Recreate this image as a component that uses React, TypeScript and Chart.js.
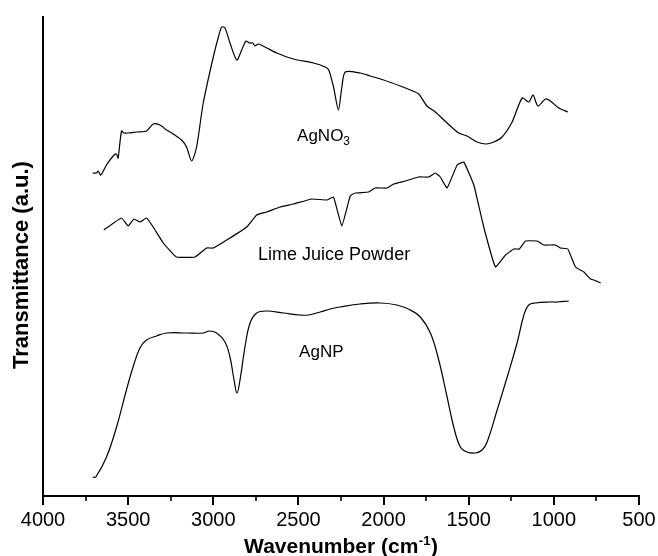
import React, { useEffect, useRef } from "react";
import { Chart, registerables } from "chart.js";

Chart.register(...registerables);

// Wavenumber (cm-1) and transmittance (arbitrary units) for each spectrum
const wnAgNO3 = [3709, 3686, 3676, 3661, 3627, 3588, 3568, 3559, 3539, 3525, 3500, 3450, 3392, 3353, 3314, 3274, 3235, 3186, 3157, 3127, 3098, 3059, 3000, 2970, 2951, 2931, 2902, 2862, 2833, 2808, 2788, 2768, 2755, 2735, 2686, 2627, 2529, 2412, 2343, 2322, 2294, 2265, 2245, 2225, 2137, 2078, 2000, 1902, 1843, 1794, 1745, 1696, 1627, 1559, 1510, 1451, 1398, 1353, 1304, 1245, 1186, 1147, 1122, 1094, 1049, 1020, 971, 918];
const tAgNO3 = [323, 323, 325, 321, 331, 340, 342, 338, 365, 363, 363, 364, 365, 372, 371, 366, 362, 356, 349, 335, 349, 393, 439, 459, 469, 468, 453, 436, 446, 455, 453, 453, 450, 452, 448, 443, 437, 433, 429, 426, 409, 386, 409, 424, 423, 420, 416, 410, 406, 402, 390, 384, 373, 363, 360, 354, 352, 354, 359, 374, 398, 394, 401, 390, 397, 395, 388, 384];

const wnLime = [3643, 3539, 3500, 3466, 3431, 3392, 3353, 3294, 3216, 3108, 3039, 3000, 2902, 2804, 2745, 2686, 2608, 2529, 2421, 2333, 2294, 2245, 2196, 2167, 2088, 2049, 1980, 1941, 1873, 1794, 1735, 1696, 1667, 1627, 1568, 1529, 1470, 1412, 1343, 1284, 1235, 1202, 1167, 1098, 1059, 990, 961, 918, 873, 824, 784, 765, 725];
const tLime = [266, 278, 270, 277, 274, 278, 269, 253, 239, 239, 248, 248, 258, 269, 281, 284, 289, 292, 297, 296, 299, 270, 300, 303, 304, 308, 308, 312, 315, 319, 319, 323, 319, 308, 331, 334, 311, 269, 229, 241, 247, 247, 255, 255, 251, 251, 248, 247, 229, 224, 217, 216, 213];

const wnAgNP = [3709, 3690, 3627, 3568, 3510, 3471, 3431, 3392, 3333, 3274, 3157, 3059, 3024, 2980, 2931, 2902, 2878, 2861, 2843, 2814, 2784, 2745, 2686, 2588, 2490, 2441, 2372, 2314, 2255, 2137, 2020, 1922, 1843, 1784, 1725, 1676, 1627, 1588, 1549, 1510, 1461, 1421, 1392, 1333, 1274, 1216, 1176, 1147, 1108, 1020, 980, 912];
const tAgNP = [19, 19, 39, 69, 106, 129, 148, 156, 160, 163, 163, 163, 165, 163, 154, 139, 116, 103, 116, 149, 173, 183, 185, 183, 181, 181, 184, 187, 189, 192, 193, 191, 186, 179, 163, 136, 99, 69, 49, 44, 43, 46, 54, 86, 119, 153, 181, 191, 193, 194, 194, 195];

const xMajorTicks = [4000, 3500, 3000, 2500, 2000, 1500, 1000, 500];
const xMinorTicks = [3750, 3250, 2750, 2250, 1750, 1250, 750];

const xTitle = "Wavenumber (cm";
const xTitleSup = "-1";
const xTitleEnd = ")";
const yTitle = "Transmittance (a.u.)";

const FONT = '"Liberation Sans", Arial, Helvetica, sans-serif';

const toPoints = (xs: number[], ys: number[]) => xs.map((x, i) => ({ x, y: ys[i] }));

const overlayPlugin = {
  id: "ftirOverlay",
  afterDraw(chart: any) {
    const { ctx, chartArea, scales } = chart;
    const xs = scales.x;
    const ys = scales.y;
    ctx.save();
    ctx.strokeStyle = "#000";
    ctx.fillStyle = "#000";
    // tick marks
    ctx.lineWidth = 2;
    xMajorTicks.forEach((v) => {
      const px = Math.round(xs.getPixelForValue(v));
      ctx.beginPath();
      ctx.moveTo(px, chartArea.bottom);
      ctx.lineTo(px, chartArea.bottom + 9);
      ctx.stroke();
    });
    ctx.lineWidth = 1.6;
    xMinorTicks.forEach((v) => {
      const px = Math.round(xs.getPixelForValue(v));
      ctx.beginPath();
      ctx.moveTo(px, chartArea.bottom);
      ctx.lineTo(px, chartArea.bottom + 5);
      ctx.stroke();
    });

    // x title with superscript
    const cx = (chartArea.left + chartArea.right) / 2;
    const base = 553;
    ctx.font = `bold 21px ${FONT}`;
    const w1 = ctx.measureText(xTitle).width;
    const w3 = ctx.measureText(xTitleEnd).width;
    ctx.font = `bold 13px ${FONT}`;
    const w2 = ctx.measureText(xTitleSup).width;
    let sx = cx - (w1 + w2 + w3 + 1) / 2;
    ctx.textBaseline = "alphabetic";
    ctx.textAlign = "left";
    ctx.font = `bold 21px ${FONT}`;
    ctx.fillText(xTitle, sx, base);
    sx += w1;
    ctx.font = `bold 13px ${FONT}`;
    ctx.fillText(xTitleSup, sx + 0.5, base - 8);
    sx += w2 + 1;
    ctx.font = `bold 21px ${FONT}`;
    ctx.fillText(xTitleEnd, sx, base);

    // y title
    ctx.save();
    ctx.translate(22, 265);
    ctx.rotate(-Math.PI / 2);
    ctx.textAlign = "center";
    ctx.textBaseline = "middle";
    ctx.font = `bold 22px ${FONT}`;
    ctx.fillText(yTitle, 0, 0);
    ctx.restore();

    // curve labels (anchored in data coordinates)
    const lbl = chart.options.plugins.ftirOverlay.labels;
    lbl.forEach((l: any) => {
      const px = xs.getPixelForValue(l.x);
      const py = ys.getPixelForValue(l.y);
      ctx.textAlign = "left";
      ctx.textBaseline = "alphabetic";
      ctx.font = `${l.size}px ${FONT}`;
      ctx.fillText(l.text, px, py);
      if (l.sub) {
        const w = ctx.measureText(l.text).width;
        ctx.font = `${Math.round(l.size * 0.68)}px ${FONT}`;
        ctx.fillText(l.sub, px + w, py + 4);
      }
    });
    ctx.restore();
  },
};

export default function App() {
  const canvasRef = useRef<HTMLCanvasElement | null>(null);

  useEffect(() => {
    if (!canvasRef.current) return;
    const lineStyle = {
      borderColor: "#000",
      borderWidth: 1.2,
      pointRadius: 0,
      fill: false,
    };
    const chart = new Chart(canvasRef.current, {
      type: "line",
      data: {
        datasets: [
          { label: "AgNO3", data: toPoints(wnAgNO3, tAgNO3), tension: 0.25, ...lineStyle },
          { label: "Lime Juice Powder", data: toPoints(wnLime, tLime), tension: 0.1, ...lineStyle },
          { label: "AgNP", data: toPoints(wnAgNP, tAgNP), tension: 0.4, ...lineStyle },
        ],
      },
      options: {
        responsive: false,
        animation: false,
        events: [],
        layout: { padding: { top: 17, right: 19, left: 0, bottom: 0 } },
        plugins: {
          legend: { display: false },
          tooltip: { enabled: false },
          ftirOverlay: {
            labels: [
              { text: "AgNO", sub: "3", x: 2508, y: 355, size: 17 },
              { text: "Lime Juice Powder", x: 2737, y: 236, size: 18 },
              { text: "AgNP", x: 2496, y: 139, size: 17 },
            ],
          },
        } as any,
        scales: {
          x: {
            type: "linear",
            reverse: true,
            min: 500,
            max: 4000,
            afterFit: (s: any) => {
              s.height = 60;
              s.paddingLeft = 0;
              s.paddingRight = 0;
            },
            grid: { display: true, drawOnChartArea: false, drawTicks: false },
            border: { display: true, color: "#000", width: 2 },
            ticks: {
              stepSize: 500,
              autoSkip: false,
              maxRotation: 0,
              padding: 12,
              color: "#000",
              font: { family: FONT, size: 20 },
              callback: (v: any) => String(v),
            },
          },
          y: {
            type: "linear",
            min: 0,
            max: 479,
            afterFit: (s: any) => {
              s.width = 43;
            },
            grid: { display: true, drawOnChartArea: false, drawTicks: false },
            border: { display: true, color: "#000", width: 2 },
            ticks: { display: false },
          },
        },
      },
      plugins: [overlayPlugin],
    });
    return () => chart.destroy();
  }, []);

  return (
    <div style={{ position: "fixed", left: 0, top: 0, width: 658, height: 556, background: "#fff" }}>
      <canvas ref={canvasRef} width={658} height={556} style={{ display: "block" }} />
    </div>
  );
}
